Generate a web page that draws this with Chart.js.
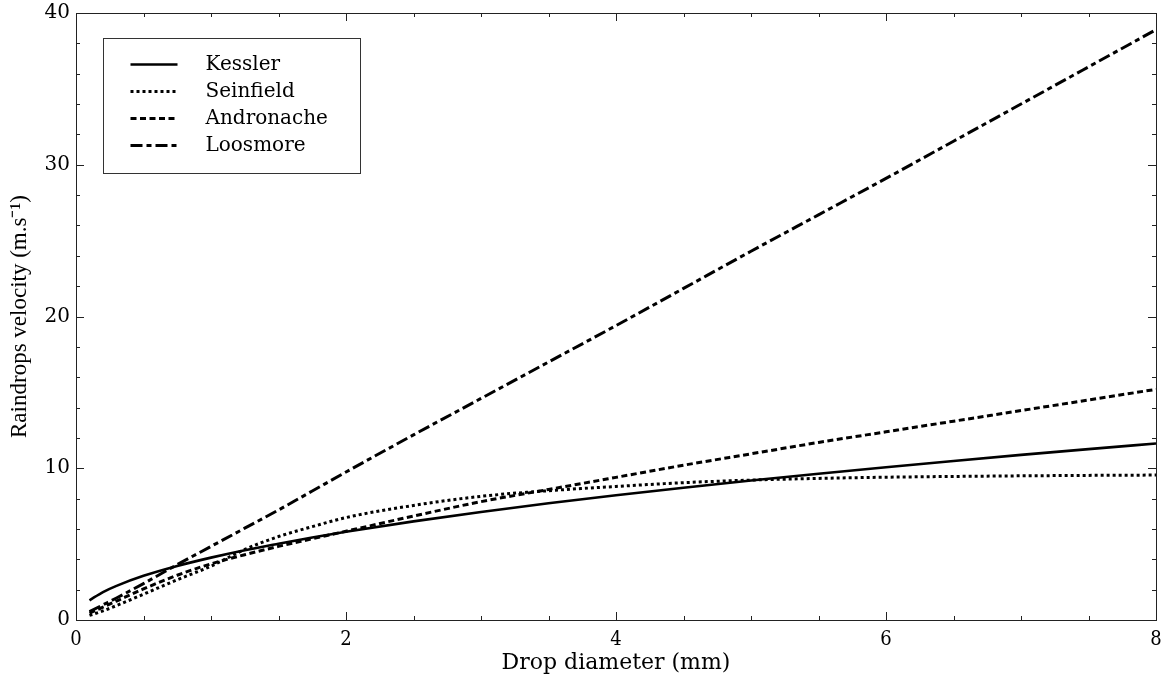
<!DOCTYPE html>
<html>
<head>
<meta charset="utf-8">
<script src="https://cdn.jsdelivr.net/npm/chart.js@4/dist/chart.umd.min.js"></script>
<style>
  html, body { margin: 0; padding: 0; background: #fff; }
  #wrap { width: 1169px; height: 684px; position: relative; }
</style>
</head>
<body>
<div id="wrap"><canvas id="c" width="1169" height="684"></canvas></div>
<script>
// ---- data ----
const diameters = [0.1, 0.2, 0.3, 0.5, 0.75, 1, 1.25, 1.5, 1.75, 2, 2.5, 3, 3.5, 4, 4.5, 5, 5.5, 6, 6.5, 7, 7.5, 8];
const kessler    = [1.30, 1.84, 2.25, 2.91, 3.56, 4.11, 4.60, 5.03, 5.44, 5.81, 6.50, 7.12, 7.69, 8.22, 8.72, 9.19, 9.64, 10.07, 10.48, 10.88, 11.26, 11.63];
const seinfield  = [0.30, 0.60, 0.95, 1.70, 2.65, 3.55, 4.65, 5.50, 6.15, 6.75, 7.55, 8.15, 8.52, 8.80, 9.05, 9.22, 9.33, 9.41, 9.46, 9.50, 9.53, 9.55];
const andronache = [0.45, 0.85, 1.25, 2.05, 2.95, 3.70, 4.30, 4.85, 5.35, 5.85, 6.85, 7.80, 8.60, 9.40, 10.20, 10.95, 11.70, 12.40, 13.10, 13.80, 14.50, 15.20];
const loosmore   = [0.55, 1.00, 1.45, 2.40, 3.65, 4.85, 6.05, 7.25, 8.50, 9.75, 12.20, 14.60, 17.00, 19.40, 21.85, 24.30, 26.70, 29.10, 31.55, 34.00, 36.45, 38.90];
const seriesNames = ["Kessler", "Seinfield", "Andronache", "Loosmore"];
const xTicks = [0, 2, 4, 6, 8];
const yTicks = [0, 10, 20, 30, 40];

function pts(ys) { return diameters.map((d, i) => ({ x: d, y: ys[i] })); }

const styles = [
  { borderWidth: 2.6, borderDash: [] },
  { borderWidth: 3, borderDash: [3, 3] },
  { borderWidth: 3, borderDash: [6, 3.5] },
  { borderWidth: 3, borderDash: [12, 4, 5, 4] }
];
const allSeries = [kessler, seinfield, andronache, loosmore];

const datasets = allSeries.map((s, i) => ({
  label: seriesNames[i],
  data: pts(s),
  borderColor: '#000',
  backgroundColor: '#000',
  borderWidth: styles[i].borderWidth,
  borderDash: styles[i].borderDash,
  borderCapStyle: 'butt',
  pointRadius: 0,
  cubicInterpolationMode: 'monotone',
  fill: false
}));

const framePlugin = {
  id: 'frameTicks',
  afterDatasetsDraw(chart) {
    const { ctx, chartArea: a, scales: { x, y } } = chart;
    ctx.save();
    ctx.strokeStyle = '#222';
    ctx.lineWidth = 1;
    ctx.setLineDash([]);
    ctx.strokeRect(Math.round(a.left) + 0.5, Math.round(a.top) + 0.5,
                   Math.round(a.right - a.left), Math.round(a.bottom - a.top));
    ctx.beginPath();
    for (let v = 0; v <= 8.0001; v += 0.5) {
      const len = (Math.abs(v / 2 - Math.round(v / 2)) < 1e-6) ? 8 : 4;
      const px = Math.round(x.getPixelForValue(v)) + 0.5;
      ctx.moveTo(px, a.bottom); ctx.lineTo(px, a.bottom - len);
      ctx.moveTo(px, a.top); ctx.lineTo(px, a.top + len);
    }
    for (let v = 0; v <= 40.0001; v += 2) {
      const len = (v % 10 === 0) ? 8 : 4;
      const py = Math.round(y.getPixelForValue(v)) + 0.5;
      ctx.moveTo(a.left, py); ctx.lineTo(a.left + len, py);
      ctx.moveTo(a.right, py); ctx.lineTo(a.right - len, py);
    }
    ctx.stroke();

    // legend box
    const bx = a.left + 27.5, by = a.top + 25.5, bw = 257, bh = 135;
    ctx.fillStyle = '#fff';
    ctx.fillRect(bx, by, bw, bh);
    ctx.strokeStyle = '#333';
    ctx.strokeRect(bx, by, bw, bh);
    ctx.font = '20px "DejaVu Serif"';
    ctx.textBaseline = 'middle';
    ctx.textAlign = 'left';
    chart.data.datasets.forEach((ds, i) => {
      const ly = by + 26 + i * 27;
      ctx.beginPath();
      ctx.strokeStyle = '#000';
      ctx.lineWidth = ds.borderWidth;
      ctx.lineCap = 'butt';
      ctx.setLineDash(ds.borderDash || []);
      ctx.moveTo(bx + 27, ly); ctx.lineTo(bx + 74, ly);
      ctx.stroke();
      ctx.setLineDash([]);
      ctx.fillStyle = '#000';
      ctx.fillText(ds.label, bx + 102, ly);
    });
    ctx.restore();
  }
};

new Chart(document.getElementById('c'), {
  type: 'line',
  data: { datasets },
  options: {
    responsive: false,
    animation: false,
    layout: { padding: { left: 0, top: 13, right: 13, bottom: 0 } },
    plugins: { legend: { display: false }, tooltip: { enabled: false } },
    scales: {
      x: {
        type: 'linear',
        min: 0, max: 8,
        afterBuildTicks(scale) { scale.ticks = xTicks.map(v => ({ value: v })); },
        afterFit(scale) { scale.height = 64; scale.paddingLeft = 0; scale.paddingRight = 0; },
        grid: { display: true, drawOnChartArea: false, drawTicks: false },
        border: { display: false },
        ticks: {
          color: '#000',
          padding: 8,
          maxRotation: 0,
          font: { family: '"DejaVu Serif Condensed", "DejaVu Serif"', size: 20 }
        },
        title: {
          display: true,
          text: 'Drop diameter (mm)',
          color: '#000',
          padding: { top: 0, bottom: 8 },
          font: { family: '"DejaVu Serif"', size: 22 }
        }
      },
      y: {
        type: 'linear',
        min: 0, max: 40,
        afterBuildTicks(scale) { scale.ticks = yTicks.map(v => ({ value: v })); },
        afterFit(scale) { scale.width = 76; scale.paddingTop = 0; scale.paddingBottom = 0; },
        grid: { display: true, drawOnChartArea: false, drawTicks: false },
        border: { display: false },
        ticks: {
          color: '#000',
          padding: 6,
          font: { family: '"DejaVu Serif"', size: 20 }
        },
        title: {
          display: true,
          text: 'Raindrops velocity (m.s\u207B\u00B9)',
          color: '#000',
          padding: { top: 6, bottom: 0 },
          font: { family: '"Liberation Serif"', size: 23 }
        }
      }
    }
  },
  plugins: [framePlugin]
});
</script>
</body>
</html>
